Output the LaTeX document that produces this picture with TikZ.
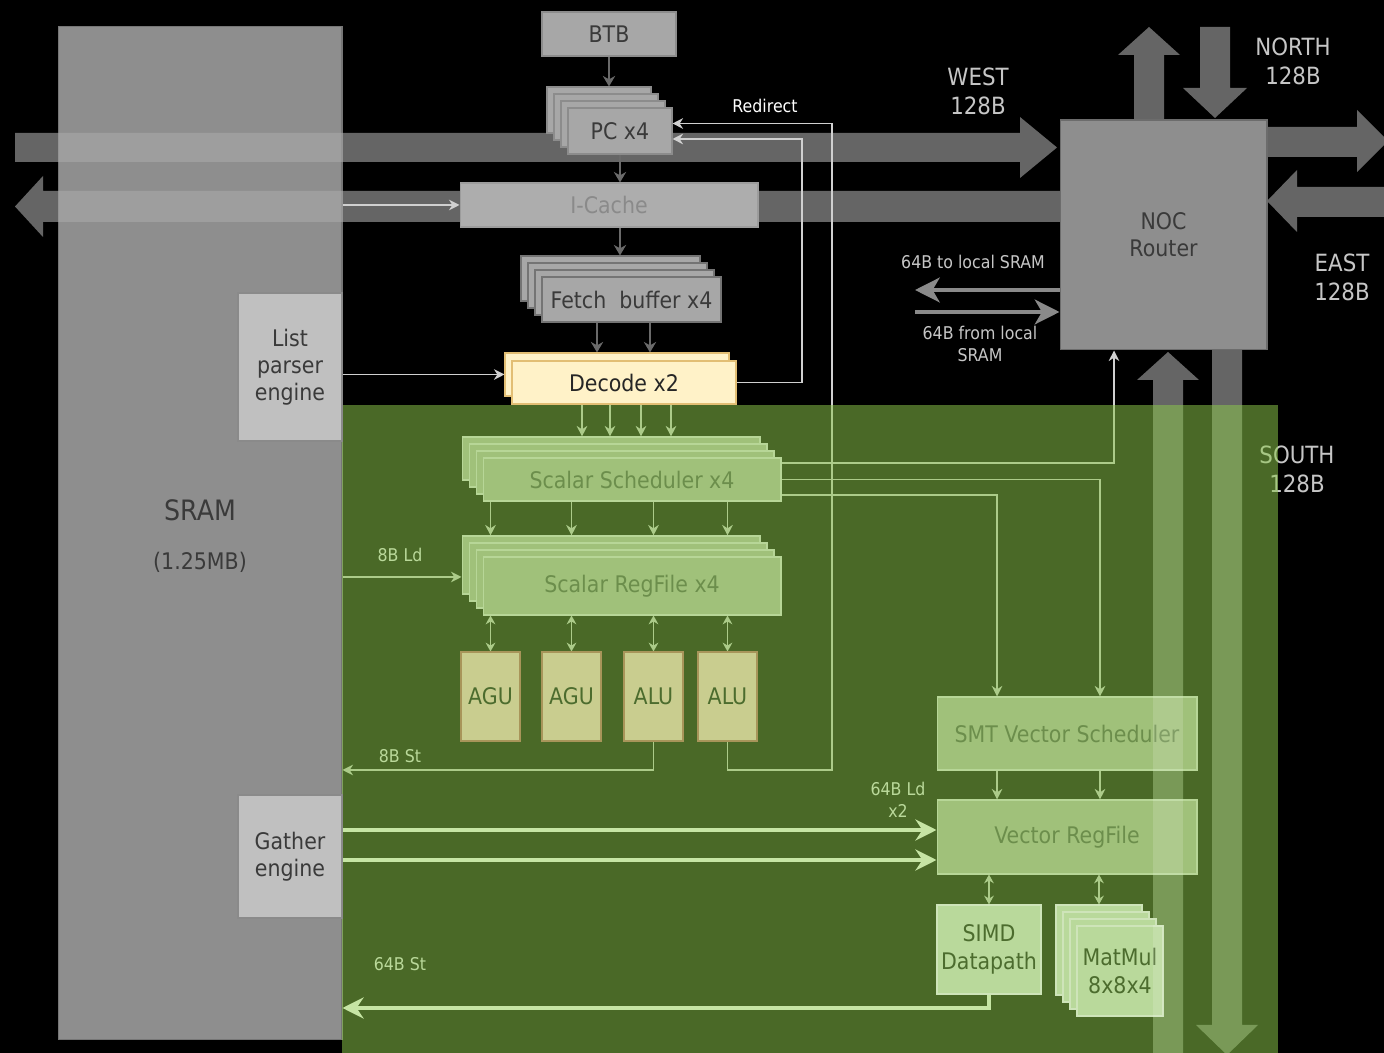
\documentclass[tikz,border=0pt]{standalone}
\usepackage{fontspec}
\setmainfont{DejaVu Sans}[FakeStretch=0.9]
\usepackage{tikz}
\usetikzlibrary{arrows.meta,calc}
\definecolor{sramgray}{HTML}{8E8E8E}
\definecolor{sramedge}{HTML}{767676}
\definecolor{boxgray}{HTML}{A7A7A7}
\definecolor{pcedge}{HTML}{8C8C8C}
\definecolor{fetchedge}{HTML}{747474}
\definecolor{boxlight}{HTML}{C0C0C0}
\definecolor{lightedge}{HTML}{8A8A8A}
\definecolor{textdark}{HTML}{3A3A3A}
\definecolor{cachegray}{HTML}{ADADAD}
\definecolor{cacheedge}{HTML}{9C9C9C}
\definecolor{cachetext}{HTML}{8A8A8A}
\definecolor{nocgray}{HTML}{8E8E8E}
\definecolor{nocedge}{HTML}{6C6C6C}
\definecolor{bandgray}{HTML}{A9A9A9}
\definecolor{wiregray}{HTML}{D0D0D0}
\definecolor{arrowgray}{HTML}{6A6A6A}
\definecolor{lbllight}{HTML}{C6C6C6}
\definecolor{localgray}{HTML}{8A8A8A}
\definecolor{tintgreen}{HTML}{8CC84B}
\definecolor{gbox}{HTML}{A0C17A}
\definecolor{gedge}{HTML}{B7D697}
\definecolor{gtext}{HTML}{6C8E4C}
\definecolor{gpale}{HTML}{B9D99B}
\definecolor{gdark}{HTML}{4C6C2E}
\definecolor{alufill}{HTML}{C9CD8F}
\definecolor{aluedge}{HTML}{A8955A}
\definecolor{glabel}{HTML}{BAD99A}
\definecolor{gthick}{HTML}{C6E5A4}
\definecolor{decfill}{HTML}{FFF2C8}
\definecolor{decedge}{HTML}{E2BE74}
\pgfdeclarelayer{back}
\pgfdeclarelayer{wires}
\pgfdeclarelayer{tint}
\pgfsetlayers{back,wires,tint,main}
\newcommand{\fntbox}{\fontsize{13}{15.5}\selectfont}
\newcommand{\fntsmall}{\fontsize{10}{12.5}\selectfont}
\newcommand{\fntdir}{\fontsize{13.5}{16.5}\selectfont}
\newcommand{\fntsram}{\fontsize{16}{19}\selectfont}

\begin{document}
\begin{tikzpicture}[x=0.02cm,y=-0.02cm,
    card/.style={draw,rectangle,inner sep=0pt,line width=0.6pt},
    graycard/.style={card,fill=boxgray,draw=pcedge,text=textdark,font=\fntbox},
    lightcard/.style={card,fill=boxlight,draw=lightedge,text=textdark,font=\fntbox,align=center},
    deccard/.style={card,fill=decfill,draw=decedge,text=black!85,font=\fntbox},
    gcard/.style={card,fill=gbox,draw=gedge,text=gtext,font=\fntbox},
    gpalecard/.style={card,fill=gpale,draw=gpale!70!white,text=gdark,font=\fntbox,align=center},
    alucard/.style={card,fill=alufill,draw=aluedge,text=gdark,font=\fntbox},
    bigarrow/.style={fill=bandgray,fill opacity=0.6},
    dirlbl/.style={text=lbllight,font=\fntdir,align=center},
    smalllbl/.style={text=lbllight,font=\fntsmall,align=center},
    glbl/.style={text=glabel,font=\fntsmall,align=center},
    wire/.style={draw=wiregray,line width=0.8pt,-{Stealth[length=6pt,width=6pt]}},
    darkwire/.style={draw=arrowgray,line width=1pt,-{Stealth[length=6pt,width=7pt]}},
    biwire/.style={draw=wiregray,line width=0.8pt,{Stealth[length=5pt,width=5.5pt]}-{Stealth[length=5pt,width=5.5pt]}},
    fatwire/.style={draw=gthick,line width=2pt,-{Stealth[length=12pt,width=12pt,inset=4pt]}},
    localwire/.style={draw=localgray,line width=2.6pt,-{Stealth[length=14pt,width=14pt,inset=4pt]}}
  ]
  \useasboundingbox (0,0) rectangle (1384,1053);

  % floor, SRAM and the 128B links
  \begin{pgfonlayer}{back}
    \fill[black] (0,0) rectangle (1384,1053);
    \node[card,fill=sramgray,draw=sramedge,minimum width=5.68cm,minimum height=20.28cm] (sram) at (200,533) {};
    \node[text=textdark,font=\fntsram] (sramname) at (200,510) {SRAM};
    \node[text=textdark,font=\fntbox] (sramsize) at (200,562) {(1.25MB)};
    % west
    \fill[bigarrow] (15,133) -- (1020,133) -- (1020,117) -- (1057,147.5) -- (1020,178) -- (1020,162) -- (15,162) -- cycle;
    \fill[bigarrow] (1060,191) -- (43,191) -- (43,176) -- (15,206.5) -- (43,237) -- (43,222) -- (1060,222) -- cycle;
    % north
    \fill[bigarrow] (1134,120) -- (1134,55) -- (1118,55) -- (1149,27) -- (1180,55) -- (1164,55) -- (1164,120) -- cycle;
    \fill[bigarrow] (1200,27) -- (1200,88) -- (1183,88) -- (1215,118) -- (1247,88) -- (1230,88) -- (1230,27) -- cycle;
    % east
    \fill[bigarrow] (1267,127) -- (1357,127) -- (1357,110) -- (1388,141) -- (1357,172) -- (1357,157) -- (1267,157) -- cycle;
    \fill[bigarrow] (1390,187) -- (1297,187) -- (1297,170) -- (1267,201) -- (1297,232) -- (1297,217) -- (1390,217) -- cycle;
    % south
    \fill[bigarrow] (1153,1060) -- (1153,380) -- (1137,380) -- (1168,352) -- (1199,380) -- (1183,380) -- (1183,1060) -- cycle;
    \fill[bigarrow] (1212,350) -- (1212,1025) -- (1196,1025) -- (1227,1055) -- (1258,1025) -- (1242,1025) -- (1242,350) -- cycle;
    \node[dirlbl] (southlbl) at (1297,469) {SOUTH\\128B};
  \end{pgfonlayer}

  % front end
  \node[graycard,minimum width=2.68cm,minimum height=0.88cm] (btb) at (609,34) {BTB};
  \foreach \k/\n in {3/D,2/C,1/B}
    \node[graycard,minimum width=2.08cm,minimum height=0.92cm] (pc\n) at ({620-7*\k},{131-7*\k}) {};
  \node[graycard,minimum width=2.08cm,minimum height=0.92cm] (pc) at (620,131) {PC x4};
  \node[card,fill=cachegray,draw=cacheedge,text=cachetext,font=\fntbox,minimum width=5.96cm,minimum height=0.88cm] (icache) at (609,205) {I-Cache};
  \foreach \k/\n in {3/D,2/C,1/B}
    \node[graycard,draw=fetchedge,minimum width=3.58cm,minimum height=0.9cm] (fetch\n) at ({631.5-7*\k},{299.5-7*\k}) {};
  \node[graycard,draw=fetchedge,minimum width=3.58cm,minimum height=0.9cm] (fetch) at (631.5,299.5) {Fetch~ buffer x4};
  \node[deccard,minimum width=4.48cm,minimum height=0.86cm] (decodeB) at (617,374.5) {};
  \node[deccard,minimum width=4.48cm,minimum height=0.86cm] (decode) at (624,382.5) {Decode x2};
  \node[lightcard,minimum width=2.08cm,minimum height=2.96cm] (list) at (290,367) {List\\parser\\engine};
  \node[lightcard,minimum width=2.08cm,minimum height=2.46cm] (gather) at (290,856.5) {Gather\\engine};
  \node[card,fill=nocgray,draw=nocedge,text=textdark,font=\fntbox,align=center,minimum width=4.14cm,minimum height=4.6cm] (noc) at (1163.5,235) {NOC\\Router};

  \node[dirlbl] (westlbl) at (978,91) {WEST\\128B};
  \node[dirlbl] (northlbl) at (1293,61) {NORTH\\128B};
  \node[dirlbl] (eastlbl) at (1342,277) {EAST\\128B};
  \node[text=white,font=\fntsmall] (redirlbl) at (765,106) {Redirect};
  \node[smalllbl] (tolbl) at (973,262) {64B to local SRAM};
  \node[smalllbl] (fromlbl) at (980,344) {64B from local\\SRAM};

  % scalar and vector core
  \foreach \k/\n in {3/D,2/C,1/B}
    \node[gcard,minimum width=5.96cm,minimum height=0.86cm] (sched\n) at ({632-7*\k},{479.5-7*\k}) {};
  \node[gcard,minimum width=5.96cm,minimum height=0.86cm] (sched) at (632,479.5) {Scalar Scheduler x4};
  \foreach \k/\n in {3/D,2/C,1/B}
    \node[gcard,minimum width=5.96cm,minimum height=1.16cm] (reg\n) at ({632-7*\k},{586-7*\k}) {};
  \node[gcard,minimum width=5.96cm,minimum height=1.16cm] (reg) at (632,586) {Scalar RegFile x4};
  \node[alucard,minimum width=1.18cm,minimum height=1.78cm] (agu1) at (490.5,696.5) {AGU};
  \node[alucard,minimum width=1.18cm,minimum height=1.78cm] (agu2) at (571.5,696.5) {AGU};
  \node[alucard,minimum width=1.18cm,minimum height=1.78cm] (alu1) at (653.5,696.5) {ALU};
  \node[alucard,minimum width=1.18cm,minimum height=1.78cm] (alu2) at (727.5,696.5) {ALU};
  \node[gcard,minimum width=5.2cm,minimum height=1.46cm] (smt) at (1067,733.5) {SMT Vector Scheduler};
  \node[gcard,minimum width=5.2cm,minimum height=1.48cm] (vrf) at (1067,837) {Vector RegFile};
  \node[gpalecard,minimum width=2.08cm,minimum height=1.78cm] (simd) at (989,949.5) {SIMD\\Datapath};
  \foreach \k/\n in {3/D,2/C,1/B}
    \node[gpalecard,minimum width=1.72cm,minimum height=1.8cm] (mm\n) at ({1120-7*\k},{971-7*\k}) {};
  \node[gpalecard,minimum width=1.72cm,minimum height=1.8cm] (mm) at (1120,971) {MatMul\\8x8x4};

  % connectors, under the green tint
  \begin{pgfonlayer}{wires}
    \coordinate (redir1) at (832,0);
    \coordinate (redir2) at (802,0);
    \coordinate (rail) at (0,770);
    \coordinate (pcHigh) at ([yshift=0.15cm]pc.east);
    \coordinate (pcLow) at ([yshift=-0.16cm]pc.east);
    \coordinate (fbL) at ([xshift=-0.69cm]fetch.south);
    \coordinate (fbR) at ([xshift=0.37cm]fetch.south);
    \coordinate (ldS) at ([yshift=-0.24cm]regD.west);
    \coordinate (nocIn) at ([xshift=-0.99cm]noc.south);
    \coordinate (smtL) at ([xshift=-1.4cm]smt.north);
    \coordinate (smtR) at ([xshift=0.66cm]smt.north);
    \coordinate (toSram) at (915,290);
    \coordinate (fromSram) at (915,312);

    \draw[darkwire] (btb.south) -- (btb.south |- pcD.north);
    \draw[darkwire] (pc.south) -- (pc.south |- icache.north);
    \draw[darkwire] (pc.south |- icache.south) -- (pc.south |- fetchD.north);
    \draw[darkwire] (fbL) -- (fbL |- decodeB.north);
    \draw[darkwire] (fbR) -- (fbR |- decodeB.north);
    \draw[wire] (icache.west -| sram.east) -- (icache.west);
    \draw[wire] (decodeB.west -| list.east) -- (decodeB.west);
    \draw[wire] (decode.east) -| (redir2 |- pcLow) -- (pcLow);
    \draw[wire] (alu2.south) |- (rail -| redir1) |- (pcHigh);
    \draw[wire] (alu1.south) |- (rail -| sram.east);
    \draw[wire] (ldS -| sram.east) -- (ldS);
    \foreach \x in {582,610,641,671}
      \draw[wire] (\x,0 |- decode.south) -- (\x,0 |- schedD.north);
    \foreach \u in {agu1,agu2,alu1,alu2} {
      \draw[wire] (\u |- sched.south) -- (\u |- regD.north);
      \draw[biwire] (\u |- reg.south) -- (\u.north);
    }
    \draw[wire] ([yshift=0.33cm]sched.east) -| (nocIn);
    \draw[wire] (sched.east) -| (smtR);
    \draw[wire] ([yshift=-0.31cm]sched.east) -| (smtL);
    \draw[wire] (smtL |- smt.south) -- (smtL |- vrf.north);
    \draw[wire] (smtR |- smt.south) -- (smtR |- vrf.north);
    \draw[biwire] (simd.north |- vrf.south) -- (simd.north);
    \draw[biwire] (mmD.north |- vrf.south) -- (mmD.north);
    \draw[localwire] (toSram -| noc.west) -- (toSram);
    \draw[localwire] (fromSram) -- (fromSram -| noc.west);
  \end{pgfonlayer}

  \begin{pgfonlayer}{tint}
    \fill[tintgreen,opacity=0.53] (342,405) rectangle (1278,1053);
  \end{pgfonlayer}

  % south link seen through the vector boxes
  \foreach \b in {smt,vrf,mm} {
    \begin{scope}
      \clip (\b.south west) rectangle (\b.north east);
      \fill[white,opacity=0.15] (1153,0) rectangle (1183,1053);
    \end{scope}
  }

  % 64B paths and labels in the core
  \coordinate (ldA) at (0,830);
  \coordinate (ldB) at (0,860);
  \coordinate (stV) at (0,1008);
  \draw[fatwire] (ldA -| gather.east) -- (ldA -| vrf.west);
  \draw[fatwire] (ldB -| gather.east) -- (ldB -| vrf.west);
  \draw[fatwire] (simd.south) |- (stV -| sram.east);
  \node[glbl] (ldlbl) at (400,555) {8B Ld};
  \node[glbl] (stlbl) at (400,756) {8B St};
  \node[glbl] (vldlbl) at (898,800) {64B Ld\\x2};
  \node[glbl] (vstlbl) at (400,964) {64B St};
\end{tikzpicture}
\end{document}
